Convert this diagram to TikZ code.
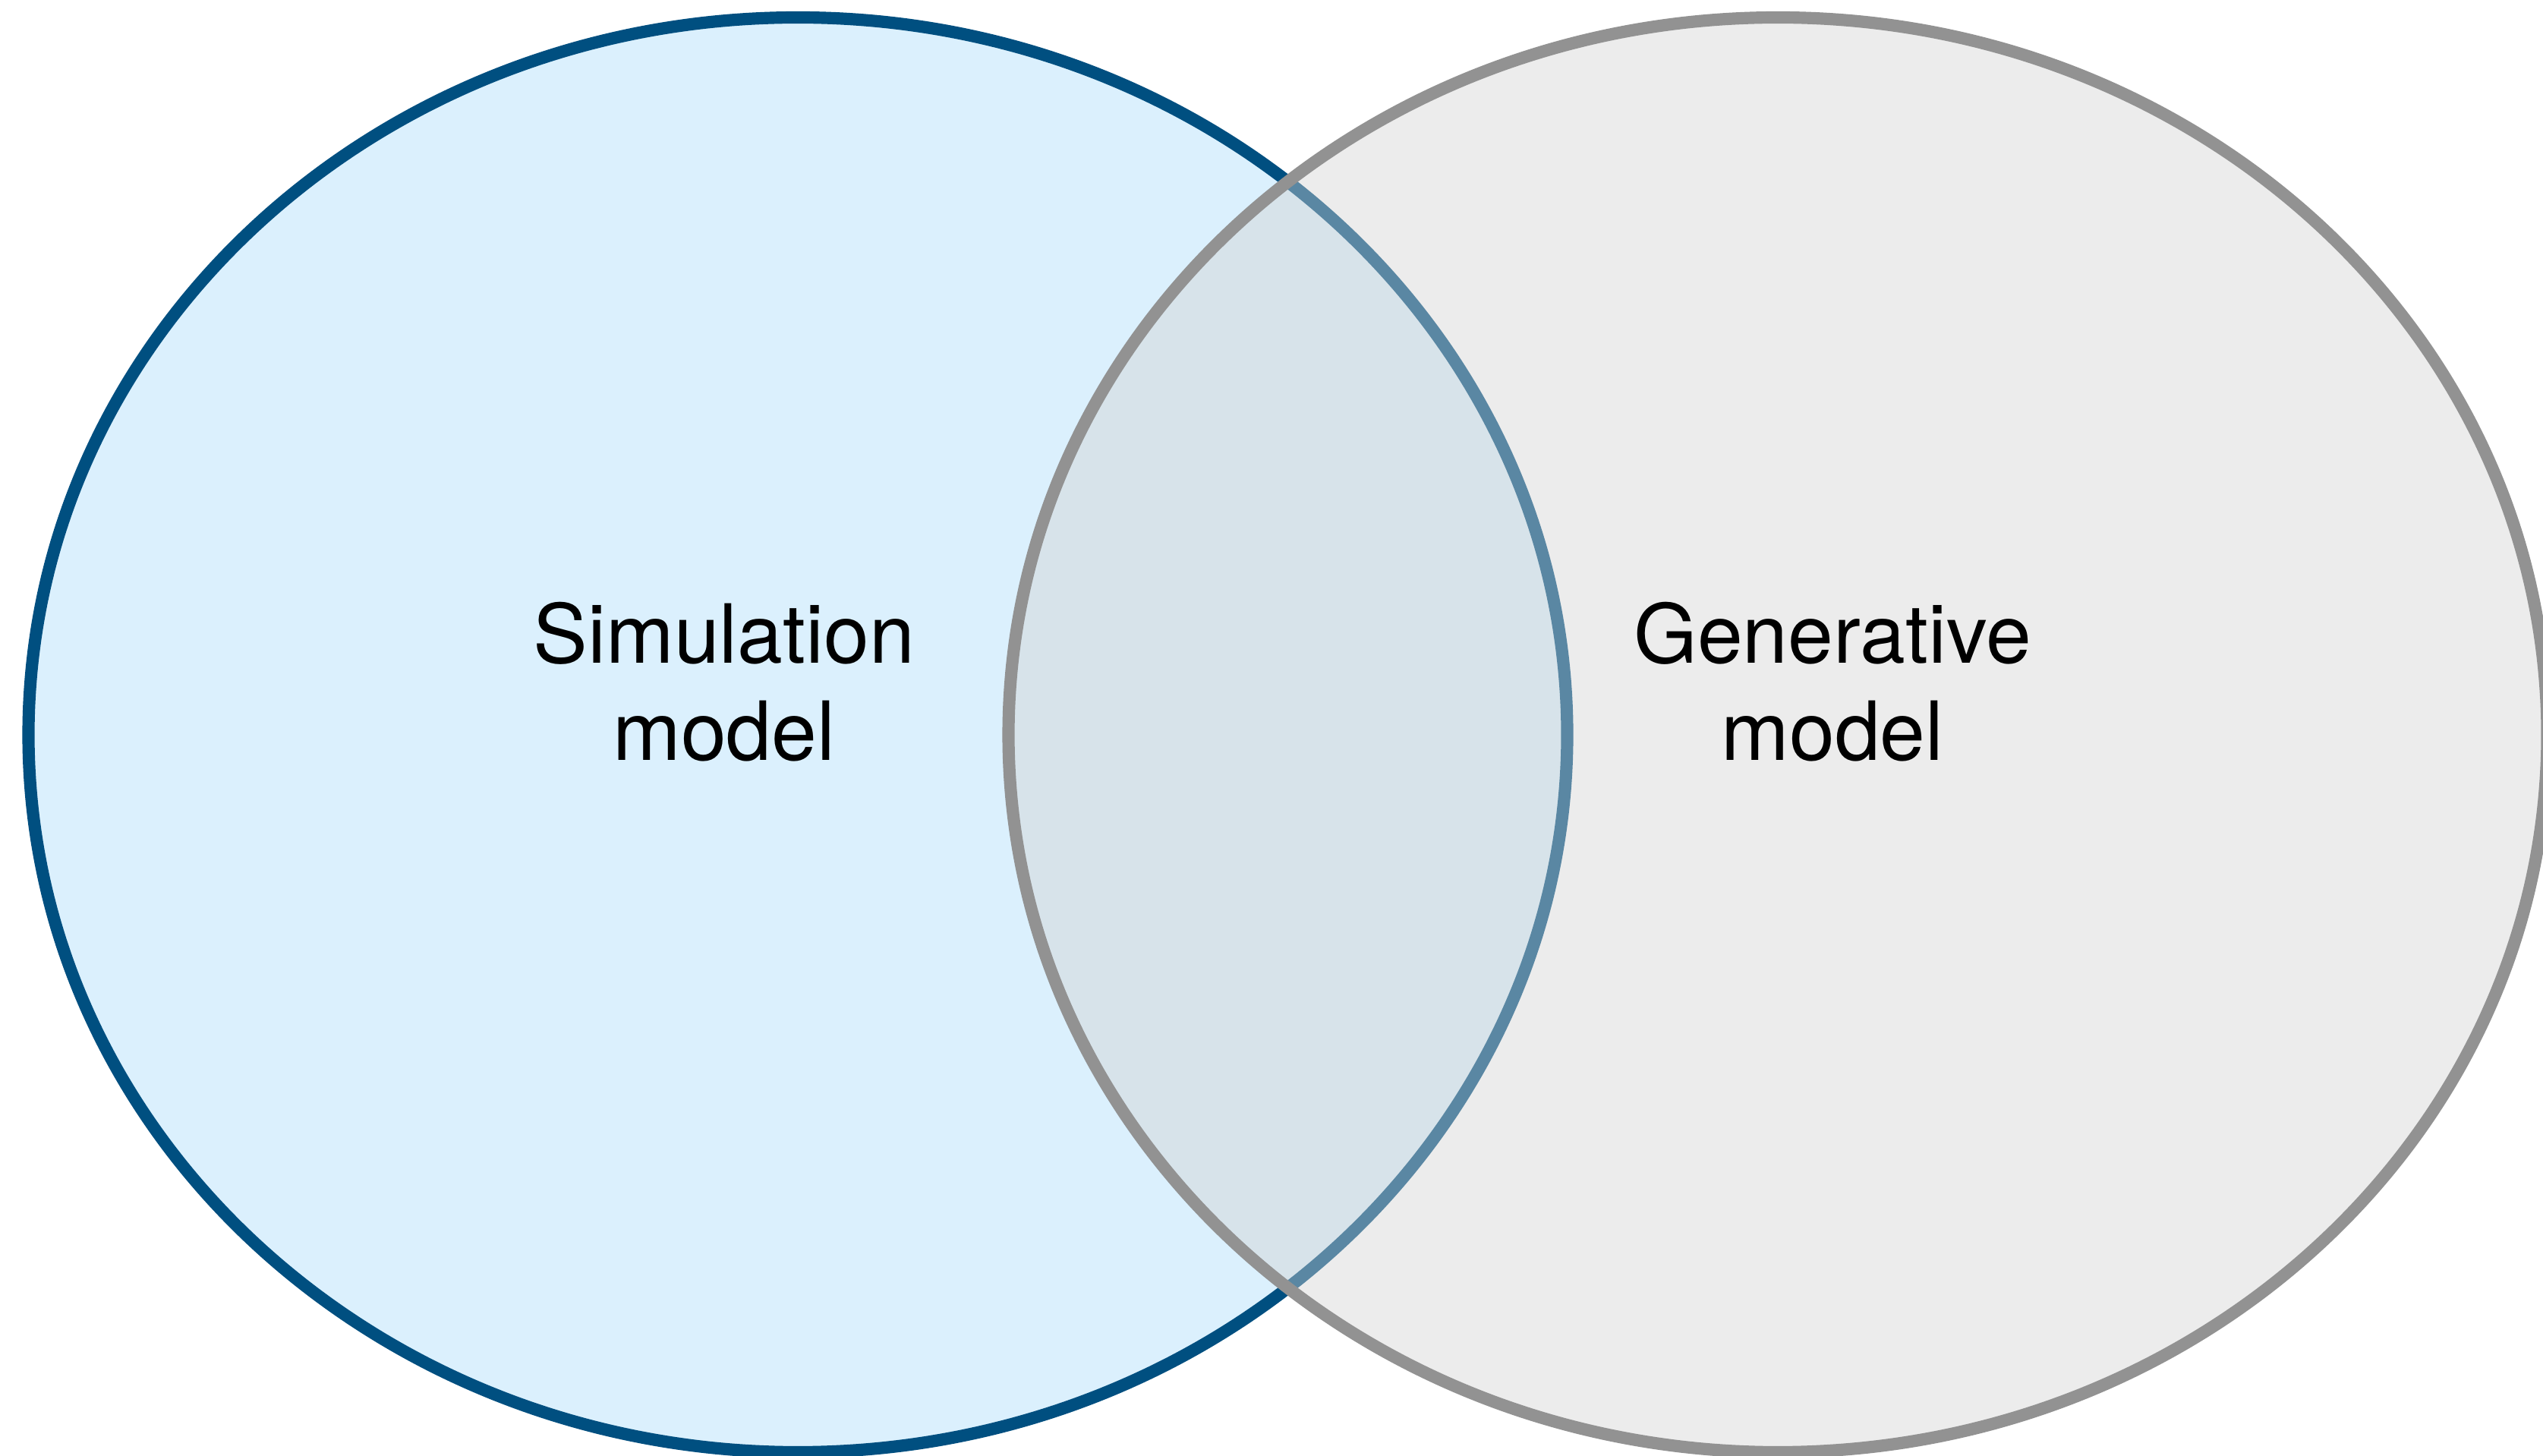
\documentclass[tikz,border=0pt]{standalone}
\usepackage{fontspec}
\setmainfont{TeX Gyre Heros}
\usetikzlibrary{shapes.geometric}

\definecolor{simline}{RGB}{0,79,128}
\definecolor{simfill}{RGB}{219,240,253}
\definecolor{genline}{RGB}{146,146,146}
\definecolor{genfill}{RGB}{210,210,210}

\tikzset{
  setshape/.style={ellipse, inner sep=0pt, minimum width=10.135cm, minimum height=9.45cm, line width=2.3pt},
  setlabel/.style={align=center, font=\fontsize{15.3}{18.2}\selectfont}
}

\begin{document}
\begin{tikzpicture}
                \useasboundingbox (0,0) rectangle (16.75,9.585);
                \node[setshape, draw=simline, fill=simfill] (sim) at (5.255,4.745) {};
                \node[setshape, draw=genline, fill=genfill, fill opacity=0.43, draw opacity=1] (gen) at (11.71,4.745) {};
                \node[setlabel] (simtext) at (4.77,5.095) {Simulation\\model};
                \node[setlabel] (gentext) at (12.07,5.095) {Generative\\model};
            \end{tikzpicture}
\end{document}
